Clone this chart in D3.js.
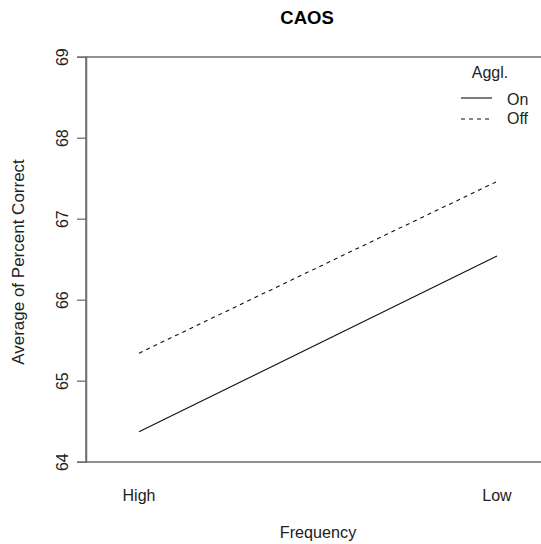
<!DOCTYPE html>
<html><head><meta charset="utf-8">
<script src="https://cdn.jsdelivr.net/npm/d3@7"></script>
<style>body{margin:0;background:#fff}svg{display:block}text{font-family:"Liberation Sans",Arial,sans-serif}</style>
</head><body>
<script>
const categories = ["High", "Low"];
const seriesNames = ["On", "Off"];
const onValues = [64.37, 66.54];
const offValues = [65.34, 67.46];
const yTicks = [64, 65, 66, 67, 68, 69];
const title = "CAOS";
const xTitle = "Frequency";
const yTitle = "Average of Percent Correct";
const legendTitle = "Aggl.";

const W = 541, H = 544;
const svg = d3.select("body").append("svg").attr("width", W).attr("height", H);
const box = {l: 86, r: 552, t: 57, b: 462};
const x = d3.scalePoint().domain(categories).range([139, 497]);
const y = d3.scaleLinear().domain([64, 69]).range([461.7, 56.7]);
const frame = "#6e6e6e";
const txt = "#222";

svg.append("rect").attr("x", box.l).attr("y", box.t).attr("width", box.r - box.l).attr("height", box.b - box.t)
  .attr("fill", "none").attr("stroke", frame).attr("stroke-width", 1.5);

const yAxis = svg.append("g").attr("transform", `translate(${box.l},0)`)
  .call(d3.axisLeft(y).tickValues(yTicks).tickSize(9).tickPadding(0).tickFormat(d3.format("d")));
yAxis.select(".domain").attr("stroke", frame).attr("stroke-width", 1.5);
yAxis.selectAll(".tick line").attr("stroke", frame).attr("stroke-width", 1.3);
yAxis.selectAll(".tick text").attr("x", 0).attr("dy", 0)
  .attr("transform", "translate(-24,0) rotate(-90)").attr("text-anchor", "middle")
  .attr("dominant-baseline", "central")
  .attr("font-size", 16).attr("fill", txt);

svg.append("g").selectAll("text").data(categories).join("text")
  .attr("x", d => x(d)).attr("y", 501).attr("text-anchor", "middle")
  .attr("font-size", 16).attr("fill", txt).text(d => d);

const line = d3.line().x((d, i) => x(categories[i])).y(d => y(d));
svg.append("path").datum(onValues).attr("d", line).attr("fill", "none")
  .attr("stroke", "#111").attr("stroke-width", 1.1);
svg.append("path").datum(offValues).attr("d", line).attr("fill", "none")
  .attr("stroke", "#111").attr("stroke-width", 1.1).attr("stroke-dasharray", "4,4");

svg.append("text").attr("x", 307).attr("y", 24).attr("text-anchor", "middle")
  .attr("font-size", 18.5).attr("font-weight", "bold").text(title);
svg.append("text").attr("x", 318).attr("y", 538).attr("text-anchor", "middle")
  .attr("font-size", 16.2).attr("fill", txt).text(xTitle);
svg.append("text").attr("transform", "translate(24,262) rotate(-90)").attr("text-anchor", "middle")
  .attr("font-size", 17).attr("fill", txt).text(yTitle);

const lg = svg.append("g");
lg.append("text").attr("x", 490).attr("y", 78).attr("text-anchor", "middle")
  .attr("font-size", 16).attr("fill", txt).text(legendTitle);
const styles = ["none", "4,4"];
const lineY = [98, 119];
const textY = [105, 124];
seriesNames.forEach((s, i) => {
  lg.append("line").attr("x1", 461).attr("x2", 492).attr("y1", lineY[i]).attr("y2", lineY[i])
    .attr("stroke", "#111").attr("stroke-width", 1.1).attr("stroke-dasharray", styles[i]);
  lg.append("text").attr("x", 507).attr("y", textY[i]).attr("font-size", 16).attr("fill", txt).text(s);
});
</script>
</body></html>
